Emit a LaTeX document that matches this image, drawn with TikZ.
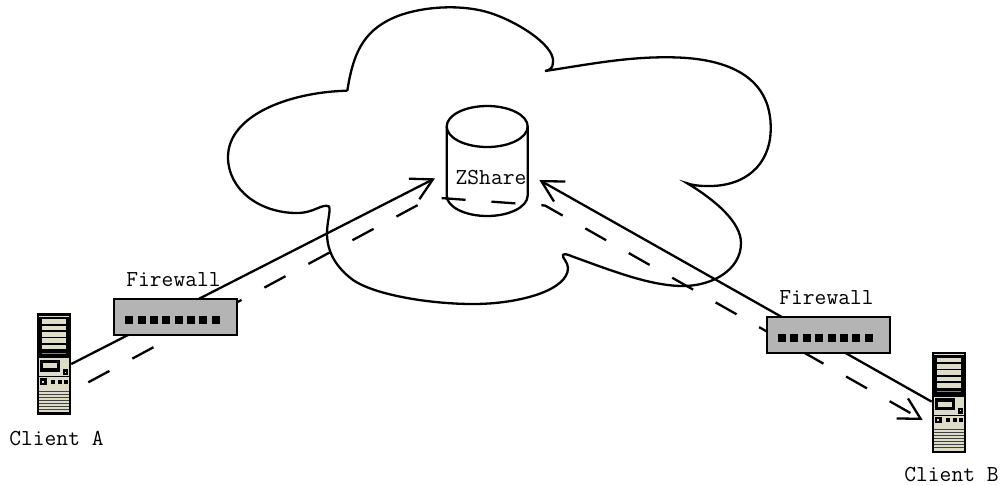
\documentclass[tikz,border=0pt]{standalone}
\usepackage{xcolor}
\usetikzlibrary{arrows.meta}
\definecolor{towercream}{HTML}{DCDCC8}
\definecolor{switchgrey}{HTML}{B4B4B4}
\tikzset{
	wire/.style={line width=0.046cm,-{Straight Barb[length=0.42cm,width=0.46cm,line width=0.046cm]}},
	label text/.style={font=\ttfamily\fontsize{13}{15}\selectfont,inner sep=0pt},
	pics/firewall/.style={code={
		\node[draw=black,line width=0.046cm,fill=switchgrey,minimum width=2.46cm,minimum height=0.72cm,inner sep=0pt] (-box) at (0,0) {};
		\foreach \i in {0,...,7}
			\fill[black] (-50.6+12.35*\i,-1.2) rectangle +(8,8);
	}},
	pics/server/.style={code={
		\node[draw=black,line width=0.05cm,fill=towercream,minimum width=0.64cm,minimum height=1.98cm,inner sep=0pt] (-box) at (17.3,50.8) {};
		% Drive bays
		\fill[black] (2.7,3.3) rectangle (32.7,45);
		\foreach \y in {6,12.4,18.7,25,31.4}
			\fill[towercream] (5.3,\y) rectangle +(24,4.7);
		\draw[gray,line width=0.015cm] (5.3,40) -- (29.3,40);
		% Floppy
		\fill[black] (3.3,46.7) rectangle (23.3,58.4);
		\fill[towercream] (6.7,50) rectangle (20.7,55);
		\fill[black] (26,56) rectangle (31.6,62);
		\fill[towercream] (28.2,58.4) rectangle +(1.2,1.2);
		\draw[black,line width=0.015cm] (2,63.4) -- (33,63.4);
		% Buttons
		\fill[black] (3.3,65) rectangle (10,71.7);
		\fill[towercream] (5.6,67.4) rectangle +(2,2);
		\foreach \x in {14.3,21,27.6}
			\fill[black] (\x,66.7) rectangle +(4,4);
		% Grill
		\foreach \y in {78,81,...,97}
			\draw[black!75,line width=0.022cm] (2.2,\y) -- (32.5,\y);
	}}
}
\begin{document}
\begin{tikzpicture}[x=0.02cm,y=-0.02cm]
	\useasboundingbox (0,0) rectangle (1001,485);

	% Cloud
	\draw[line width=0.046cm] (347.3,90.7)
		.. controls (353,55) and (362,32) .. (393,18)
		.. controls (415,8) and (455,3) .. (487,12)
		.. controls (515,20) and (555,45) .. (553,62)
		.. controls (553,68) and (550,70) .. (545,71)
		.. controls (585,65) and (625,57) .. (666.7,57.3)
		.. controls (725,57) and (772,75) .. (770.7,130)
		.. controls (770,165) and (745,187) .. (706.7,186)
		.. controls (698,186) and (692,185) .. (687.3,183.3)
		.. controls (715,200) and (741,222) .. (741,243)
		.. controls (741,270) and (712,286) .. (683,286)
		.. controls (650,286) and (610,270) .. (573,256.7)
		.. controls (569,255) and (564,253) .. (563,255)
		.. controls (562,258) and (568,262) .. (568,268)
		.. controls (568,290) and (520,304) .. (473,304)
		.. controls (430,304) and (375,295) .. (353,280)
		.. controls (337,268) and (327,253) .. (327,233)
		.. controls (327,222) and (331,210) .. (329,206.5)
		.. controls (322,203) and (315,213) .. (296.7,213)
		.. controls (260,213) and (228,190) .. (228,157)
		.. controls (228,115) and (290,92) .. (347.3,90.7);

	% ZShare store
	\draw[line width=0.046cm] (487.2,126.5) ellipse (0.81cm and 0.41cm);
	\draw[line width=0.046cm] (446.7,126.5) -- (446.7,195.5) arc (180:360:0.81cm and 0.41cm) -- (527.7,126.5);
	\node[label text] (zshareLabel) at (491,178) {ZShare};

	% Ends of the connectors
	\coordinate (solidA) at (435,178.3);
	\coordinate (solidB) at (539.3,180);
	\coordinate (dashStart) at (88.3,382.3);
	\coordinate (dashLeft) at (432,197.4);
	\coordinate (dashRight) at (545,205.5);
	\coordinate (dashEnd) at (922.7,420);

	% Clients
	\pic (clientA) at (36.7,313.3) {server};
	\pic (clientB) at (931.7,351.7) {server};

	% Connectors
	\draw[wire] (clientA-box.east |- 0,364) -- (solidA);
	\draw[wire] (clientB-box.west |- 0,401.7) -- (solidB);
	\draw[wire,dash pattern=on 0.48cm off 0.52cm] (dashStart) -- (dashLeft) -- (dashRight) -- (dashEnd);

	% Firewalls
	\pic (firewallA) at (175.8,317.2) {firewall};
	\pic (firewallB) at (828.7,335.3) {firewall};

	% Labels
	\node[label text] (firewallAText) at (173.5,280) {Firewall};
	\node[label text] (firewallBText) at (826.5,298) {Firewall};
	\node[label text] (clientAText) at (56.5,438) {Client A};
	\node[label text] (clientBText) at (951.5,475) {Client B};
\end{tikzpicture}
\end{document}
